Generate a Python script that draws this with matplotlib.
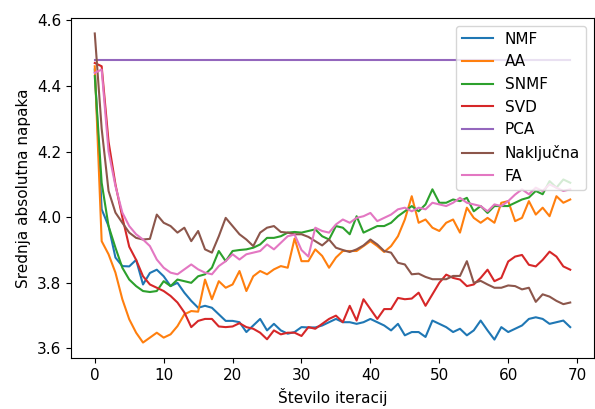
import matplotlib
import matplotlib.pyplot as plt

matplotlib.use("Agg")

iterations = list(range(70))

nmf = [4.45, 4.024, 3.973, 3.877, 3.851, 3.85, 3.87, 3.795, 3.83, 3.84,
       3.82, 3.79, 3.80, 3.77, 3.745, 3.724, 3.73, 3.724, 3.704, 3.684,
       3.684, 3.68, 3.65, 3.67, 3.69, 3.655, 3.675, 3.655, 3.645, 3.65,
       3.665, 3.664, 3.664, 3.67, 3.68, 3.69, 3.68, 3.68, 3.675, 3.68,
       3.69, 3.68, 3.67, 3.655, 3.675, 3.64, 3.65, 3.65, 3.635, 3.685,
       3.675, 3.665, 3.65, 3.66, 3.64, 3.655, 3.685, 3.655, 3.627, 3.665,
       3.65, 3.66, 3.67, 3.69, 3.695, 3.69, 3.675, 3.68, 3.685, 3.665]

aa = [4.46, 3.927, 3.887, 3.831, 3.75, 3.689, 3.648, 3.618, 3.633, 3.648,
      3.633, 3.643, 3.668, 3.704, 3.714, 3.712, 3.81, 3.75, 3.805, 3.785,
      3.795, 3.836, 3.775, 3.82, 3.836, 3.826, 3.841, 3.851, 3.846, 3.935,
      3.866, 3.866, 3.902, 3.882, 3.846, 3.877, 3.897, 3.897, 3.897, 3.912,
      3.927, 3.912, 3.894, 3.912, 3.942, 3.993, 4.064, 3.983, 3.993, 3.968,
      3.958, 3.983, 3.993, 3.953, 4.029, 3.998, 3.983, 3.998, 3.983, 4.044,
      4.049, 3.988, 3.998, 4.049, 4.008, 4.029, 4.003, 4.064, 4.044, 4.054]

snmf = [4.43, 4.105, 3.973, 3.907, 3.846, 3.81, 3.79, 3.775, 3.772, 3.775,
        3.805, 3.79, 3.81, 3.805, 3.80, 3.82, 3.826, 3.846, 3.897, 3.866,
        3.897, 3.90, 3.902, 3.907, 3.917, 3.937, 3.937, 3.942, 3.953, 3.955,
        3.953, 3.958, 3.963, 3.942, 3.932, 3.973, 3.968, 3.948, 4.003, 3.953,
        3.963, 3.973, 3.973, 3.983, 4.003, 4.018, 4.034, 4.018, 4.039, 4.085,
        4.044, 4.044, 4.054, 4.049, 4.059, 4.018, 4.034, 4.013, 4.034, 4.034,
        4.034, 4.044, 4.054, 4.06, 4.08, 4.07, 4.11, 4.09, 4.115, 4.105]

svd = [4.47, 4.46, 4.23, 4.10, 4.00, 3.91, 3.87, 3.82, 3.795, 3.785,
       3.775, 3.76, 3.74, 3.71, 3.665, 3.684, 3.69, 3.69, 3.667, 3.665,
       3.667, 3.677, 3.665, 3.66, 3.648, 3.628, 3.655, 3.643, 3.648, 3.648,
       3.638, 3.665, 3.66, 3.675, 3.69, 3.70, 3.68, 3.73, 3.685, 3.75,
       3.72, 3.69, 3.72, 3.72, 3.754, 3.75, 3.752, 3.77, 3.73, 3.765,
       3.80, 3.825, 3.815, 3.81, 3.79, 3.795, 3.815, 3.84, 3.805, 3.815,
       3.865, 3.88, 3.885, 3.855, 3.85, 3.87, 3.895, 3.88, 3.85, 3.84]

pca = [4.478] * 70

nakljucna = [4.56, 4.27, 4.08, 4.014, 3.983, 3.953, 3.937, 3.932, 3.934, 4.008,
             3.983, 3.973, 3.953, 3.968, 3.927, 3.958, 3.902, 3.892, 3.942, 3.998,
             3.973, 3.948, 3.932, 3.912, 3.953, 3.968, 3.973, 3.955, 3.953, 3.948,
             3.948, 3.940, 3.927, 3.914, 3.932, 3.907, 3.900, 3.894, 3.902, 3.914,
             3.932, 3.917, 3.897, 3.892, 3.861, 3.856, 3.826, 3.828, 3.818, 3.811,
             3.811, 3.811, 3.821, 3.821, 3.866, 3.80, 3.806, 3.795, 3.785, 3.785,
             3.792, 3.79, 3.78, 3.785, 3.742, 3.765, 3.758, 3.745, 3.735, 3.74]

fa = [4.44, 4.45, 4.20, 4.095, 4.014, 3.973, 3.948, 3.932, 3.912, 3.871,
      3.846, 3.831, 3.826, 3.841, 3.856, 3.841, 3.831, 3.826, 3.851, 3.866,
      3.887, 3.871, 3.887, 3.892, 3.897, 3.917, 3.902, 3.922, 3.942, 3.947,
      3.90, 3.88, 3.968, 3.958, 3.953, 3.978, 3.993, 3.983, 3.998, 4.003,
      4.013, 3.988, 3.998, 4.008, 4.024, 4.029, 4.018, 4.029, 4.024, 4.044,
      4.039, 4.034, 4.044, 4.059, 4.044, 4.039, 4.034, 4.018, 4.039, 4.034,
      4.049, 4.069, 4.085, 4.07, 4.09, 4.08, 4.10, 4.09, 4.08, 4.085]

series = [("NMF", nmf), ("AA", aa), ("SNMF", snmf), ("SVD", svd),
          ("PCA", pca), ("Naključna", nakljucna), ("FA", fa)]

plt.rcParams["font.size"] = 11

fig = plt.figure(figsize=(5.95, 4.09), dpi=100)
ax = fig.add_axes([71 / 595, 51 / 409, 523 / 595, 340 / 409])

for name, values in series:
    ax.plot(iterations, values, label=name)

ax.set_xlabel("Število iteracij")
ax.set_ylabel("Srednja absolutna napaka")
ax.legend(loc="upper right")

fig.savefig("out.png", dpi=100)
